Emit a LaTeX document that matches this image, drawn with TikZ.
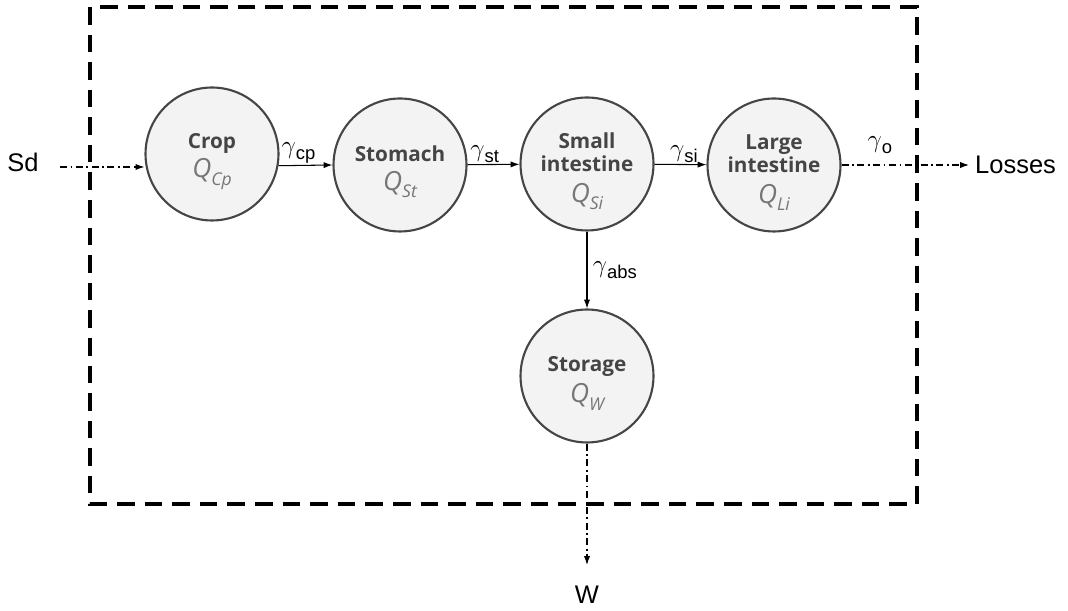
\documentclass[tikz,border=0pt]{standalone}
\usepackage{fontspec}
\setmainfont{Liberation Sans}
\newfontfamily\namefont{Open Sans}
\usetikzlibrary{arrows.meta}

\definecolor{nodefill}{HTML}{F3F3F3}
\definecolor{nodeline}{HTML}{454545}
\definecolor{namecol}{HTML}{454545}
\definecolor{qcol}{HTML}{767676}

% compartment text: bold name, then the amount Q
\newcommand{\cname}[1]{\rule{0pt}{17pt}#1}
\newcommand{\qamt}[1]{{\mdseries\itshape\color{qcol}\fontsize{15}{16}\selectfont Q\raisebox{-0.5ex}{\fontsize{10}{10}\selectfont #1}}}
\newcommand{\rate}[1]{$\gamma$\raisebox{-0.45ex}{\fontsize{10.5}{10}\selectfont #1}}

\begin{document}
\begin{tikzpicture}[x=0.02cm, y=0.02cm,
    compartment/.style={circle, draw=nodeline, line width=1.2pt, fill=nodefill,
        minimum size=2.66cm, inner sep=0pt, align=center, text=namecol,
        font=\namefont\bfseries\fontsize{11.8}{13.5}\selectfont},
    flow/.style={-{Latex[length=5pt,width=3.5pt]}, line width=0.6pt},
    outflow/.style={flow, dash pattern=on 4pt off 2pt on 1pt off 2pt},
    rate/.style={font=\fontsize{14}{14}\selectfont, inner sep=1pt},
    ext/.style={font=\fontsize{14.5}{15}\selectfont}]

\useasboundingbox (0,0) rectangle (1068,611);

% Draw the system boundary
\draw[line width=2.3pt, dash pattern=on 10pt off 5.7pt] (90,604) rectangle (917,107);

% Draw the compartments
\node[compartment] (crop) at (212,457) {\cname{Crop}\\[2pt]\qamt{Cp}};
\node[compartment] (stomach) at (400,446) {\cname{Stomach}\\[3pt]\qamt{St}};
\node[compartment] (smallint) at (587,447) {\cname{Small}\\intestine\\[4pt]\qamt{Si}};
\node[compartment] (largeint) at (774,446) {\cname{Large}\\intestine\\[4pt]\qamt{Li}};
\node[compartment] (storage) at (587,235) {\cname{Storage}\\[3pt]\qamt{W}};

% Draw the inputs and outputs
\node[ext] (sd) at (23,449) {Sd};
\coordinate (sdin) at (60,444);
\node[ext, anchor=west] (losses) at (969,446) {Losses};
\node[ext] (w) at (587,16) {W};
\coordinate (wout) at (587,46);

% Draw the flows
\draw[outflow] (sdin) -- (crop.west |- sdin);
\draw[flow] (crop.-10) -- (stomach.west) node[rate, midway, above, xshift=-4pt] {\rate{cp}};
\draw[flow] (stomach) -- (smallint) node[rate, midway, above, xshift=-5pt] {\rate{st}};
\draw[flow] (smallint) -- (largeint) node[rate, midway, above, xshift=2pt] {\rate{si}};
\draw[flow] (smallint) -- (storage) node[rate, midway, right, xshift=2pt] {\rate{abs}};
\draw[outflow] (largeint) -- (losses) node[rate, pos=0.3, above, yshift=5pt] {\rate{o}};
\draw[outflow] (storage) -- (wout);

\end{tikzpicture}
\end{document}
